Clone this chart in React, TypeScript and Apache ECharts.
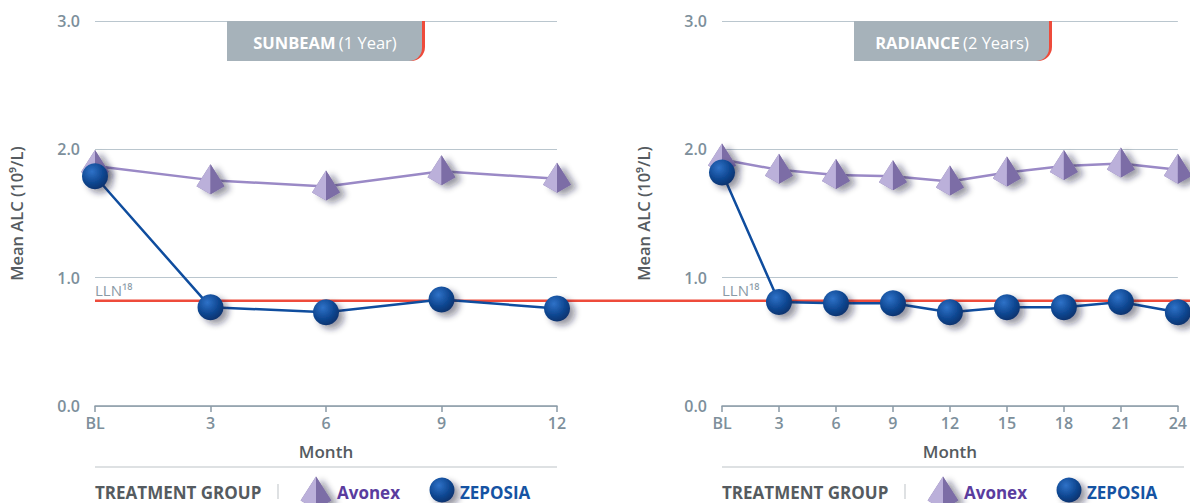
import React, { useEffect, useRef } from "react";
import * as echarts from "echarts";

// ---- data ----
const sunbeamMonths = [0, 3, 6, 9, 12];
const sunbeamAvonex = [1.87, 1.76, 1.71, 1.83, 1.77];
const sunbeamZeposia = [1.79, 0.77, 0.73, 0.83, 0.76];

const radianceMonths = [0, 3, 6, 9, 12, 15, 18, 21, 24];
const radianceAvonex = [1.92, 1.84, 1.8, 1.79, 1.75, 1.82, 1.87, 1.89, 1.84];
const radianceZeposia = [1.82, 0.81, 0.8, 0.8, 0.73, 0.77, 0.77, 0.81, 0.73];

const yMax = 3;
const yInterval = 1;
const LLN = 0.82;
const llnLabel = "LLN¹⁸";
const studyNames = ["SUNBEAM", "RADIANCE"];
const studyPeriods = ["(1 Year)", "(2 Years)"];
const xAxisName = "Month";
const yAxisName = "Mean ALC (10⁹/L)";
const legendTitle = "TREATMENT GROUP";
const avonexName = "Avonex";
const zeposiaName = "ZEPOSIA";

// ---- styles ----
const FONT = '"Open Sans", "Noto Sans", sans-serif';
const AXIS_COLOR = "#8a9aa6";
const LABEL_COLOR = "#7d8f9b";
const NAME_COLOR = "#555b60";
const GRID_COLOR = "#bac6ce";
const AVONEX_LINE = "#9a89c6";
const ZEPOSIA_LINE = "#0f4d9e";
const RED = "#ee4b3b";

const W = 1190;
const H = 503;
const panels = [
  { left: 95, right: W - 557 },
  { left: 722, right: W - 1183 },
];
const TOP = 21;
const BOTTOM = H - 406;

function pyramid(cx: number, cy: number, s: number, z?: number) {
  const apex = [cx, cy - 16 * s];
  const l = [cx - 14 * s, cy + 6 * s];
  const b = [cx, cy + 14 * s];
  const r = [cx + 14 * s, cy + 6 * s];
  const base: any = z === undefined ? {} : { z };
  return [
    {
      type: "polygon",
      ...base,
      shape: { points: [apex, l, b, r] },
      style: {
        fill: "#8d80b0",
        shadowBlur: 6,
        shadowOffsetX: 6,
        shadowOffsetY: 3,
        shadowColor: "rgba(30,30,50,0.45)",
      },
    },
    { type: "polygon", ...base, shape: { points: [apex, l, b] }, style: { fill: "#bbb0da" } },
    { type: "polygon", ...base, shape: { points: [apex, b, r] }, style: { fill: "#7c6da6" } },
  ];
}

function sphereFill() {
  return new echarts.graphic.RadialGradient(0.38, 0.32, 0.75, [
    { offset: 0, color: "#2f72c8" },
    { offset: 0.6, color: "#0e4690" },
    { offset: 1, color: "#082f68" },
  ]);
}

function sphere(cx: number, cy: number, r: number, z?: number) {
  const base: any = z === undefined ? {} : { z };
  return {
    type: "circle",
    ...base,
    shape: { cx, cy, r },
    style: {
      fill: sphereFill(),
      shadowBlur: 6,
      shadowOffsetX: 5,
      shadowOffsetY: 4,
      shadowColor: "rgba(30,30,50,0.45)",
    },
  };
}

const pyramidRender = (params: any, api: any) => {
  const p = api.coord([api.value(0), api.value(1)]);
  return { type: "group", children: pyramid(p[0], p[1], 1) };
};
const sphereRender = (params: any, api: any) => {
  const p = api.coord([api.value(0), api.value(1)]);
  return sphere(p[0], p[1], 13);
};

function pairs(xs: number[], ys: number[]) {
  return xs.map((x, i) => [x, ys[i]]);
}

export default function App() {
  const ref = useRef<HTMLDivElement>(null);
  useEffect(() => {
    document.body.style.margin = "0";
    const chart = echarts.init(ref.current!, null, { renderer: "svg" });
    const months = [sunbeamMonths, radianceMonths];
    const avonex = [sunbeamAvonex, radianceAvonex];
    const zeposia = [sunbeamZeposia, radianceZeposia];

    const grid = panels.map((p) => ({ left: p.left, right: p.right, top: TOP, bottom: BOTTOM }));
    const xAxis = months.map((m, i) => ({
      type: "value",
      gridIndex: i,
      min: 0,
      max: m[m.length - 1],
      interval: 3,
      axisLine: { show: true, lineStyle: { color: AXIS_COLOR, width: 1.5 } },
      axisTick: { show: true, length: 6, lineStyle: { color: AXIS_COLOR, width: 1.5 } },
      splitLine: { show: false },
      axisLabel: {
        formatter: (v: number) => (v === 0 ? "BL" : String(v)),
        color: LABEL_COLOR,
        fontSize: 16,
        fontWeight: 600,
        fontFamily: FONT,
        margin: 9,
      },
      name: xAxisName,
      nameLocation: "middle",
      nameGap: 37,
      nameTextStyle: { color: NAME_COLOR, fontSize: 17, fontWeight: 600, fontFamily: FONT },
    }));
    const yAxis = months.map((m, i) => ({
      type: "value",
      gridIndex: i,
      min: 0,
      max: yMax,
      interval: yInterval,
      axisLine: { show: false },
      axisTick: { show: false },
      splitLine: { show: true, lineStyle: { color: GRID_COLOR, width: 1.2 } },
      axisLabel: {
        formatter: (v: number) => v.toFixed(1),
        color: LABEL_COLOR,
        fontSize: 16,
        fontWeight: 600,
        fontFamily: FONT,
        margin: 15,
      },
      name: yAxisName,
      nameLocation: "middle",
      nameGap: 70,
      nameTextStyle: { color: NAME_COLOR, fontSize: 16.5, fontWeight: 600, fontFamily: FONT },
    }));

    const series: any[] = [];
    months.forEach((m, i) => {
      series.push({
        type: "line",
        xAxisIndex: i,
        yAxisIndex: i,
        data: pairs(m, avonex[i]),
        showSymbol: false,
        lineStyle: { color: AVONEX_LINE, width: 2.5 },
        z: 3,
      });
      series.push({
        type: "line",
        xAxisIndex: i,
        yAxisIndex: i,
        data: pairs(m, zeposia[i]),
        showSymbol: false,
        lineStyle: { color: ZEPOSIA_LINE, width: 2.5 },
        z: 4,
      });
      series.push({
        type: "custom",
        xAxisIndex: i,
        yAxisIndex: i,
        data: pairs(m, avonex[i]),
        renderItem: pyramidRender,
        encode: { x: 0, y: 1 },
        clip: false,
        z: 5,
      });
      series.push({
        type: "custom",
        xAxisIndex: i,
        yAxisIndex: i,
        data: pairs(m, zeposia[i]),
        renderItem: sphereRender,
        encode: { x: 0, y: 1 },
        clip: false,
        z: 6,
      });
    });

    chart.setOption({
      animation: false,
      backgroundColor: "#ffffff",
      grid,
      xAxis,
      yAxis,
      series,
    });

    // graphics depending on scales
    const graphics: any[] = [];
    const llnY = chart.convertToPixel({ yAxisIndex: 0 }, LLN) as number;
    const x0 = chart.convertToPixel({ xAxisIndex: 0 }, 0) as number;
    graphics.push({
      type: "line",
      z: 2,
      shape: { x1: x0, y1: llnY, x2: W, y2: llnY },
      style: { stroke: RED, lineWidth: 2.5 },
    });
    panels.forEach((p, i) => {
      const bx = chart.convertToPixel({ xAxisIndex: i }, 0) as number;
      const dx = bx - panels[0].left;
      graphics.push({
        type: "text",
        z: 2,
        x: bx,
        y: llnY - 3,
        style: {
          text: llnLabel,
          fill: AXIS_COLOR,
          fontSize: 15,
          fontFamily: FONT,
          verticalAlign: "bottom",
        },
      });
      const boxX = 227 + dx;
      graphics.push({
        type: "rect",
        z: 10,
        shape: { x: boxX, y: 21, width: 198, height: 40, r: [0, 0, 14, 0] },
        style: { fill: RED },
      });
      graphics.push({
        type: "rect",
        z: 11,
        shape: { x: boxX, y: 21, width: 195, height: 40, r: [0, 0, 13, 0] },
        style: { fill: "#a6b2ba" },
      });
      graphics.push({
        type: "text",
        z: 12,
        x: boxX + 98,
        y: 42,
        style: {
          text: `{b|${studyNames[i]}} {n|${studyPeriods[i]}}`,
          align: "center",
          verticalAlign: "middle",
          rich: {
            b: { fill: "#ffffff", fontSize: 16.5, fontWeight: 700, fontFamily: FONT },
            n: { fill: "#ffffff", fontSize: 16.5, fontWeight: 400, fontFamily: FONT },
          },
        },
      });
      graphics.push({
        type: "line",
        z: 2,
        shape: { x1: 95 + dx, y1: 467, x2: 557 + dx, y2: 467 },
        style: { stroke: "#d3d7da", lineWidth: 1.5 },
      });
      graphics.push({
        type: "text",
        z: 2,
        x: 95 + dx,
        y: 492,
        style: {
          text: legendTitle,
          fill: NAME_COLOR,
          fontSize: 17,
          fontWeight: 700,
          fontFamily: FONT,
          verticalAlign: "middle",
        },
      });
      graphics.push({
        type: "line",
        z: 2,
        shape: { x1: 278 + dx, y1: 484, x2: 278 + dx, y2: 499 },
        style: { stroke: "#c9cdd0", lineWidth: 1.2 },
      });
      graphics.push(...pyramid(316 + dx, 494, 1.1, 3));
      graphics.push({
        type: "text",
        z: 3,
        x: 337 + dx,
        y: 492,
        style: {
          text: avonexName,
          fill: "#5a3c9e",
          fontSize: 17,
          fontWeight: 700,
          fontFamily: FONT,
          verticalAlign: "middle",
        },
      });
      graphics.push(sphere(442 + dx, 490, 12.5, 3));
      graphics.push({
        type: "text",
        z: 3,
        x: 460 + dx,
        y: 492,
        style: {
          text: zeposiaName,
          fill: "#1553a3",
          fontSize: 17,
          fontWeight: 700,
          fontFamily: FONT,
          verticalAlign: "middle",
        },
      });
    });
    chart.setOption({ graphic: { elements: graphics } });

    return () => chart.dispose();
  }, []);
  return (
    <div
      ref={ref}
      style={{ position: "absolute", left: 0, top: 0, width: W, height: H }}
    />
  );
}
